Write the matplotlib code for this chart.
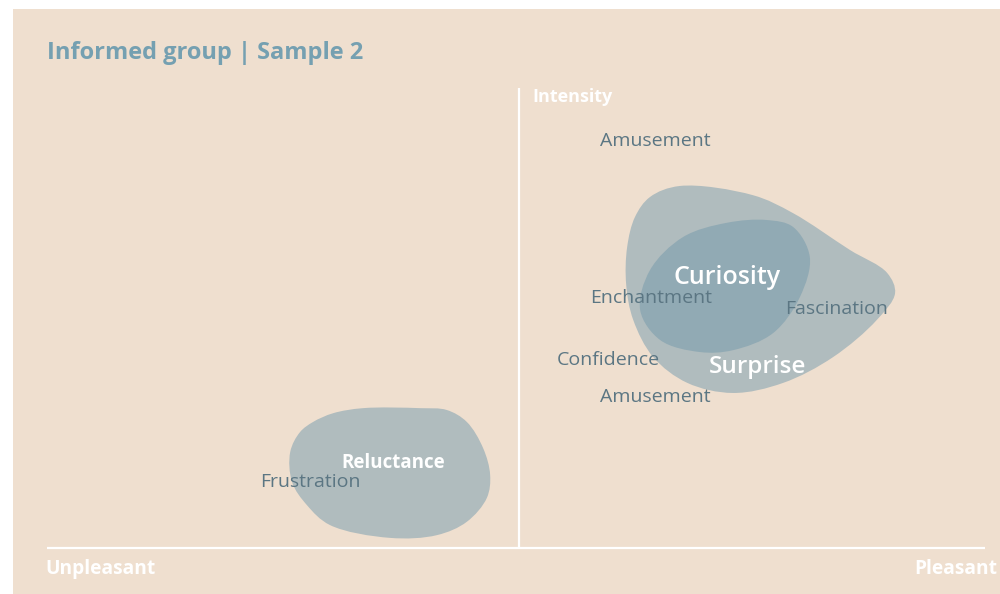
import matplotlib
matplotlib.use("Agg")
import matplotlib.pyplot as plt
from matplotlib.path import Path
from matplotlib.patches import PathPatch, Rectangle
import numpy as np

# ---- data (valence: -10 unpleasant .. +10 pleasant, intensity: 0 .. 10) ----
title = "Informed group | Sample 2"

surprise_v = [3.45, 2.81, 2.49, 2.32, 2.30, 2.45, 2.88, 3.61, 4.59, 5.67, 6.74, 7.68, 8.07, 7.90, 7.10, 5.88, 5.02]
surprise_i = [7.87, 7.63, 7.20, 6.54, 5.72, 4.96, 4.15, 3.59, 3.37, 3.59, 4.15, 4.96, 5.54, 5.98, 6.48, 7.28, 7.67]

curiosity_v = [5.32, 5.88, 6.24, 6.03, 5.45, 4.59, 3.88, 3.03, 2.60, 2.81, 3.52, 4.46]
curiosity_i = [7.13, 6.98, 6.33, 5.46, 4.67, 4.30, 4.26, 4.52, 5.17, 6.04, 6.76, 7.07]

reluctance_v = [-4.42, -4.70, -4.91, -4.87, -4.55, -4.06, -2.77, -1.76, -1.12, -0.69, -0.62, -0.77, -1.12, -1.55, -2.12, -3.35, -3.99]
reluctance_i = [2.74, 2.52, 2.09, 1.43, 0.93, 0.50, 0.22, 0.28, 0.57, 1.09, 1.59, 2.17, 2.74, 3.00, 3.04, 3.04, 2.93]

area_names = ["Curiosity", "Surprise", "Reluctance"]
area_label_v = [4.46, 5.11, -2.70]
area_label_i = [5.87, 3.93, 1.85]
area_label_size = [18, 17.5, 13.5]
area_label_weight = ["semibold", "semibold", "bold"]

emotion_names = ["Amusement", "Enchantment", "Fascination", "Confidence", "Amusement", "Frustration"]
emotion_v = [2.92, 2.83, 6.82, 1.91, 2.92, -4.48]
emotion_i = [8.85, 5.43, 5.20, 4.09, 3.28, 1.43]

# ---- styling ----
BG = "#efdfcf"
OUTER = "#b0bcbe"
INNER = "#91aab4"
LABEL = "#5b7683"
TITLE = "#75a0b1"
FONT = ["Open Sans", "DejaVu Sans"]


def smooth_closed_path(xs, ys, sx=46.6, sy=46.0, alpha=0.5):
    """Closed centripetal Catmull-Rom curve through the outline points,
    expressed as cubic Bezier segments (computed in a screen-like scale)."""
    scale = np.array([sx, sy])
    pts = np.column_stack([xs, ys]) * scale
    n = len(pts)

    def d(a, b):
        return max(np.linalg.norm(b - a), 1e-9) ** alpha

    verts = [pts[0]]
    codes = [Path.MOVETO]
    for k in range(n):
        p0 = pts[(k - 1) % n]
        p1 = pts[k]
        p2 = pts[(k + 1) % n]
        p3 = pts[(k + 2) % n]
        d01, d12, d23 = d(p0, p1), d(p1, p2), d(p2, p3)
        m1 = (p1 - p0) / d01 - (p2 - p0) / (d01 + d12) + (p2 - p1) / d12
        m2 = (p2 - p1) / d12 - (p3 - p1) / (d12 + d23) + (p3 - p2) / d23
        c1 = p1 + m1 * d12 / 3.0
        c2 = p2 - m2 * d12 / 3.0
        verts += [c1, c2, p2]
        codes += [Path.CURVE4] * 3
    verts.append(pts[0])
    codes.append(Path.CLOSEPOLY)
    return Path(np.array(verts) / scale, codes)


fig = plt.figure(figsize=(10, 5.94), dpi=100, facecolor="white")
fig.patches.append(Rectangle((13 / 1000, 0), 1 - 13 / 1000, 1 - 9 / 594,
                             transform=fig.transFigure, facecolor=BG,
                             edgecolor="none", zorder=-10))

ax = fig.add_axes([0.047, 46 / 594, 0.938, 460 / 594])
ax.set_zorder(1)
ax.patch.set_visible(False)
ax.set_xlim(-10.13, 10.0)
ax.set_ylim(0, 10)
ax.axis("off")

ax.add_patch(PathPatch(smooth_closed_path(surprise_v, surprise_i), facecolor=OUTER, edgecolor="none", zorder=1))
ax.add_patch(PathPatch(smooth_closed_path(curiosity_v, curiosity_i), facecolor=INNER, edgecolor="none", zorder=2))
ax.add_patch(PathPatch(smooth_closed_path(reluctance_v, reluctance_i), facecolor=OUTER, edgecolor="none", zorder=1))

# axes lines
ax.plot([-10.13, 10.0], [0, 0], color="white", lw=1.6, zorder=3, clip_on=False, solid_capstyle="butt")
ax.plot([0, 0], [0, 10], color="white", lw=1.6, zorder=3, clip_on=False, solid_capstyle="butt")

for name, v, i in zip(emotion_names, emotion_v, emotion_i):
    ax.text(v, i, name, color=LABEL, fontsize=14, family=FONT,
            ha="center", va="center", zorder=4)

for name, v, i, s, w in zip(area_names, area_label_v, area_label_i, area_label_size, area_label_weight):
    ax.text(v, i, name, color="white", fontsize=s, family=FONT, fontweight=w,
            ha="center", va="center", zorder=5)

ax.text(0.28, 9.80, "Intensity", color="white", fontsize=13, family=FONT,
        fontweight="bold", ha="left", va="center", clip_on=False)
fig.text(45 / 1000, 1 - 569 / 594, "Unpleasant", color="white", fontsize=13.8,
         family=FONT, fontweight="bold", ha="left", va="center")
fig.text(997 / 1000, 1 - 569 / 594, "Pleasant", color="white", fontsize=13.8,
         family=FONT, fontweight="bold", ha="right", va="center")
fig.text(47 / 1000, 1 - 53 / 594, title, color=TITLE, fontsize=17,
         family=FONT, fontweight="bold", ha="left", va="center")

fig.savefig("out.png", dpi=100, facecolor="white")
